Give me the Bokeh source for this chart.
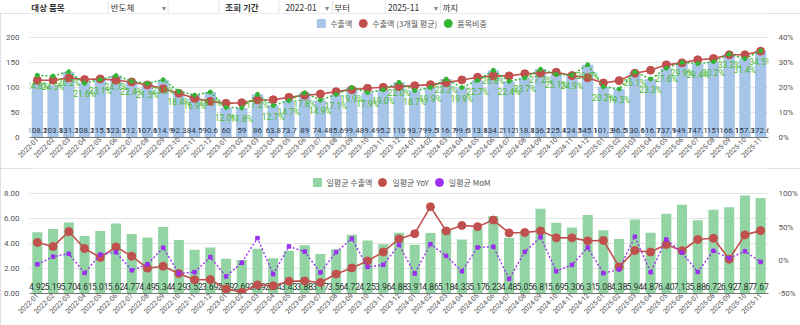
import math
from bokeh.plotting import figure
from bokeh.models import (ColumnDataSource, Range1d, LinearAxis, FactorRange, Legend,
                          LegendItem, FixedTicker, PrintfTickFormatter, NumeralTickFormatter)
from bokeh.layouts import column
from bokeh.embed import file_html
from bokeh.resources import INLINE
from bokeh.core.properties import value

# ---------------- data ----------------
months = ["2022-01", "2022-02", "2022-03", "2022-04", "2022-05", "2022-06", "2022-07", "2022-08",
          "2022-09", "2022-10", "2022-11", "2022-12", "2023-01", "2023-02", "2023-03", "2023-04",
          "2023-05", "2023-06", "2023-07", "2023-08", "2023-09", "2023-10", "2023-11", "2023-12",
          "2024-01", "2024-02", "2024-03", "2024-04", "2024-05", "2024-06", "2024-07", "2024-08",
          "2024-09", "2024-10", "2024-11", "2024-12", "2025-01", "2025-02", "2025-03", "2025-04",
          "2025-05", "2025-06", "2025-07", "2025-08", "2025-09", "2025-10", "2025-11"]

exports = [108.2, 103.8, 131.2, 108.2, 115.5, 123.5, 112.1, 107.6, 114.9, 92.3, 84.5, 90.6,
           60, 59, 86, 63.8, 73.7, 89, 74.4, 85.6, 99.4, 89.4, 95.2, 110,
           93.7, 99.5, 116.7, 99.6, 113.8, 134.2, 112, 118.8, 136.2, 125.4, 124.5, 145.1,
           101.3, 96.5, 130.6, 116.7, 137.9, 149.7, 147.1, 151, 166.1, 157.3, 172.6]

export_avg3 = [114, 114, 118.7, 115.3, 116.7, 114, 110.7, 104.7, 97.3, 88, 78, 72,
               68, 69.3, 74.7, 75.3, 80, 84, 86.7, 91.3, 95.3, 98, 100, 101.3,
               103.3, 105.3, 109.3, 114.7, 120, 122.7, 122.7, 127, 128, 130, 123.3, 119,
               108.7, 113.3, 128, 134, 144.7, 148.7, 154.7, 157.3, 164.7, 164.7, 172]

share_pct = [24.8, 24.5, 26.2, 21.6, 23.1, 24.7, 22.4, 21.5, 23.0, 18.4, 16.9, 18.1,
             12.0, 11.8, 17.2, 12.7, 14.7, 17.8, 14.9, 17.1, 19.9, 17.9, 19.0, 22.0,
             18.7, 19.9, 23.3, 19.9, 22.7, 26.8, 22.4, 23.7, 27.2, 25.1, 24.9, 29.0,
             20.2, 19.3, 26.1, 23.3, 27.6, 29.9, 29.4, 30.2, 33.2, 31.4, 34.5]

daily_avg = [4.92, 5.19, 5.70, 4.61, 5.01, 5.62, 4.77, 4.49, 5.34, 4.29, 3.52, 3.69,
             2.79, 2.69, 3.59, 2.84, 3.43, 3.88, 3.17, 3.56, 4.72, 4.25, 3.96, 4.88,
             3.91, 4.86, 5.18, 4.33, 5.17, 6.23, 4.48, 5.05, 6.81, 5.69, 5.30, 6.31,
             5.08, 4.38, 5.94, 4.87, 6.40, 7.13, 5.88, 6.72, 6.92, 7.87, 7.67]

daily_yoy = [26.8, 20.7, 43.3, 17.7, 4.2, 20.2, 6.2, -11.9, -8.9, -19.9, -29.4, -28.9,
             -43.3, -48.2, -37.0, -38.4, -31.5, -31.0, -33.5, -20.7, -11.6, -0.9, 12.5, 32.2,
             40.1, 80.7, 44.3, 52.5, 50.7, 60.6, 41.3, 41.9, 44.3, 33.9, 33.8, 29.3,
             29.9, -9.9, 14.7, 12.5, 23.8, 14.4, 31.3, 33.1, 1.6, 38.3, 44.7]

daily_mom = [-6.0, 5.5, 9.8, -19.1, 8.7, 12.2, -15.1, -5.9, 18.9, -19.7, -17.9, 4.8,
             -24.4, -3.6, 33.5, -20.9, 20.8, 13.1, -18.3, 12.3, 32.6, -10.0, -6.8, 23.2,
             -19.9, 24.3, 6.6, -16.4, 19.4, 20.5, -28.1, 12.7, 34.9, -16.4, -6.9, 19.1,
             -19.5, -13.8, 35.6, -18.0, 31.4, 11.4, -17.5, 14.3, 3.0, 13.7, -2.5]

top_left_ticks = [0, 50, 100, 150, 200]
top_right_ticks = [0, 10, 20, 30, 40]
bot_left_ticks = [0, 2, 4, 6, 8]
bot_right_ticks = [-50, 0, 50, 100]

header_labels = ["대상 품목", "반도체", "조회 기간", "2022-01", "부터", "2025-11", "까지"]

# ---------------- styles ----------------
NUM = "Roboto"
KOR = "Noto Sans CJK KR"
BLUE = "#a7c5e8"
RED = "#c0504d"
GREEN = "#33b534"
GREEN_TXT = "#48b92c"
MINT = "#93d4a4"
PURPLE = "#9b30f0"
BOX = {"outline": "1px solid #d6d6d6", "outline-offset": "-1px"}

# the axis ranges leave head-room above the top tick for the legend row
TOP_LEFT_END = 247
TOP_RIGHT_END = TOP_LEFT_END / 5.0
BOT_LEFT_END = 10.04
BOT_RIGHT_END = -50 + BOT_LEFT_END / 8.0 * 150


def base_style(p):
    p.outline_line_color = None
    p.xgrid.grid_line_color = None
    p.ygrid.grid_line_color = "#e4e4e4"
    p.border_fill_color = "white"
    xa = p.xaxis[0]
    xa.major_label_orientation = math.pi / 4
    xa.major_label_text_font = NUM
    xa.major_label_text_font_size = "7px"
    xa.major_label_text_color = "#555555"
    xa.major_tick_line_color = None
    xa.major_tick_out = 0
    xa.axis_line_color = "#777777"
    xa.major_label_standoff = 1


def style_y(ax):
    ax.axis_line_color = None
    ax.major_tick_line_color = None
    ax.minor_tick_line_color = None
    ax.major_label_text_font = NUM
    ax.major_label_text_font_size = "8px"
    ax.major_label_text_color = "#555555"
    ax.major_label_standoff = 4


def make_legend(items, margin):
    return Legend(items=items, orientation="horizontal", location="top_center",
                  glyph_width=20, glyph_height=20, label_standoff=0, spacing=0,
                  padding=0, margin=margin, border_line_color=None, background_fill_alpha=0,
                  label_text_font=KOR, label_text_font_size="8px",
                  label_text_color="#555555")


# ---------------- header ----------------
hdr = figure(width=800, height=13, x_range=Range1d(0, 800), y_range=Range1d(13, 0),
             output_backend="svg", toolbar_location=None, min_border=0)
hdr.axis.visible = False
hdr.grid.visible = False
hdr.outline_line_color = None
hsrc = ColumnDataSource(dict(x=[2, 88, 212, 277, 330, 388, 447], t=header_labels,
                             w=["bold", "normal", "bold", "normal", "normal", "normal", "normal"]))
hdr.text(x="x", y=6.5, text="t", source=hsrc, text_font=value(KOR), text_font_size="8.5px",
         text_font_style="w", text_color="#333333", text_baseline="middle")
hdr.text(x=[143, 320, 438], y=6.5, text=["▾", "▾", "▾"], text_font=value(KOR),
         text_font_size="8px", text_color="#888888", text_baseline="middle")
hdr.segment(x0=[85, 150, 205, 270, 328, 385, 445], y0=0, x1=[85, 150, 205, 270, 328, 385, 445],
            y1=13, line_color="#e2e2e2", line_width=1)

# ---------------- top chart ----------------
tsrc = ColumnDataSource(dict(m=months, v=exports, a=export_avg3, s=share_pct,
                             lbl=[f"{v:g}" for v in exports],
                             plbl=[f"{v:.1f}%" for v in share_pct]))
top = figure(x_range=FactorRange(factors=months), y_range=Range1d(0, TOP_LEFT_END),
             width=800, height=155, output_backend="svg", toolbar_location=None,
             min_border_left=25, min_border_right=28, min_border_top=0, min_border_bottom=31)
top.extra_y_ranges = {"pct": Range1d(0, TOP_RIGHT_END)}
base_style(top)
style_y(top.yaxis[0])
top.yaxis[0].ticker = FixedTicker(ticks=top_left_ticks)
tr = LinearAxis(y_range_name="pct", ticker=FixedTicker(ticks=top_right_ticks),
                formatter=PrintfTickFormatter(format="%d%%"))
style_y(tr)
top.add_layout(tr, "right")

top.vbar(x="m", top="v", width=0.72, source=tsrc, fill_color=BLUE, line_color=None)
top.text(x="m", y=0, text="lbl", source=tsrc, y_offset=-7, text_align="center",
         text_baseline="middle", text_font=value(NUM), text_font_size="8px", text_color="#2b3545")
top.line(x="m", y="a", source=tsrc, line_color=RED, line_width=1.6)
red_pts = top.scatter(x="m", y="a", source=tsrc, size=8, fill_color=RED, line_color=RED)
top.line(x="m", y="s", source=tsrc, y_range_name="pct", line_color=GREEN, line_width=1.5,
         line_dash="2 2")
grn_pts = top.scatter(x="m", y="s", source=tsrc, y_range_name="pct", size=4,
                      fill_color=GREEN, line_color=GREEN)
top.text(x="m", y="s", text="plbl", source=tsrc, y_range_name="pct", y_offset=11,
         text_align="center", text_baseline="middle", text_font=value(NUM),
         text_font_size="8.5px", text_color=GREEN_TXT)
bar_proxy = top.scatter(x=[months[0]], y=[float("nan")], marker="square", size=8,
                        fill_color=BLUE, line_color=BLUE)
top.add_layout(make_legend([LegendItem(label="수출액", renderers=[bar_proxy]),
                            LegendItem(label="수출액 (3개월 평균)", renderers=[red_pts]),
                            LegendItem(label="품목비중", renderers=[grn_pts])], 0))
top.styles = BOX

# ---------------- bottom chart ----------------
bsrc = ColumnDataSource(dict(m=months, d=daily_avg, y=daily_yoy, o=daily_mom,
                             lbl=[f"{v:.2f}" for v in daily_avg]))
bot = figure(x_range=FactorRange(factors=months), y_range=Range1d(0, BOT_LEFT_END),
             width=800, height=157, output_backend="svg", toolbar_location=None,
             min_border_left=25, min_border_right=28, min_border_top=0, min_border_bottom=32)
bot.extra_y_ranges = {"pct": Range1d(-50, BOT_RIGHT_END)}
base_style(bot)
style_y(bot.yaxis[0])
bot.yaxis[0].ticker = FixedTicker(ticks=bot_left_ticks)
bot.yaxis[0].formatter = NumeralTickFormatter(format="0.00")
br = LinearAxis(y_range_name="pct", ticker=FixedTicker(ticks=bot_right_ticks),
                formatter=PrintfTickFormatter(format="%d%%"))
style_y(br)
bot.add_layout(br, "right")

bot.vbar(x="m", top="d", width=0.64, source=bsrc, fill_color=MINT, line_color=None)
bot.text(x="m", y=0, text="lbl", source=bsrc, y_offset=-7, text_align="center",
         text_baseline="middle", text_font=value(NUM), text_font_size="8.5px", text_color="#24302a")
bot.line(x="m", y="y", source=bsrc, y_range_name="pct", line_color=RED, line_width=1.6)
yoy_pts = bot.scatter(x="m", y="y", source=bsrc, y_range_name="pct", size=8,
                      fill_color=RED, line_color=RED)
bot.line(x="m", y="o", source=bsrc, y_range_name="pct", line_color=PURPLE, line_width=1.4,
         line_dash="2 2")
mom_pts = bot.scatter(x="m", y="o", source=bsrc, y_range_name="pct", size=3.5, marker="square",
                      fill_color=PURPLE, line_color=PURPLE)
mint_proxy = bot.scatter(x=[months[0]], y=[float("nan")], marker="square", size=8,
                         fill_color=MINT, line_color=MINT)
mom_proxy = bot.scatter(x=[months[0]], y=[float("nan")], y_range_name="pct", size=8,
                        fill_color=PURPLE, line_color=PURPLE)
bot.add_layout(make_legend([LegendItem(label="일평균 수출액", renderers=[mint_proxy]),
                            LegendItem(label="일평균 YoY", renderers=[yoy_pts]),
                            LegendItem(label="일평균 MoM", renderers=[mom_proxy])], 4))
bot.styles = BOX

layout = column(hdr, top, bot, spacing=0)
open("out.html", "w").write(file_html(layout, INLINE))
